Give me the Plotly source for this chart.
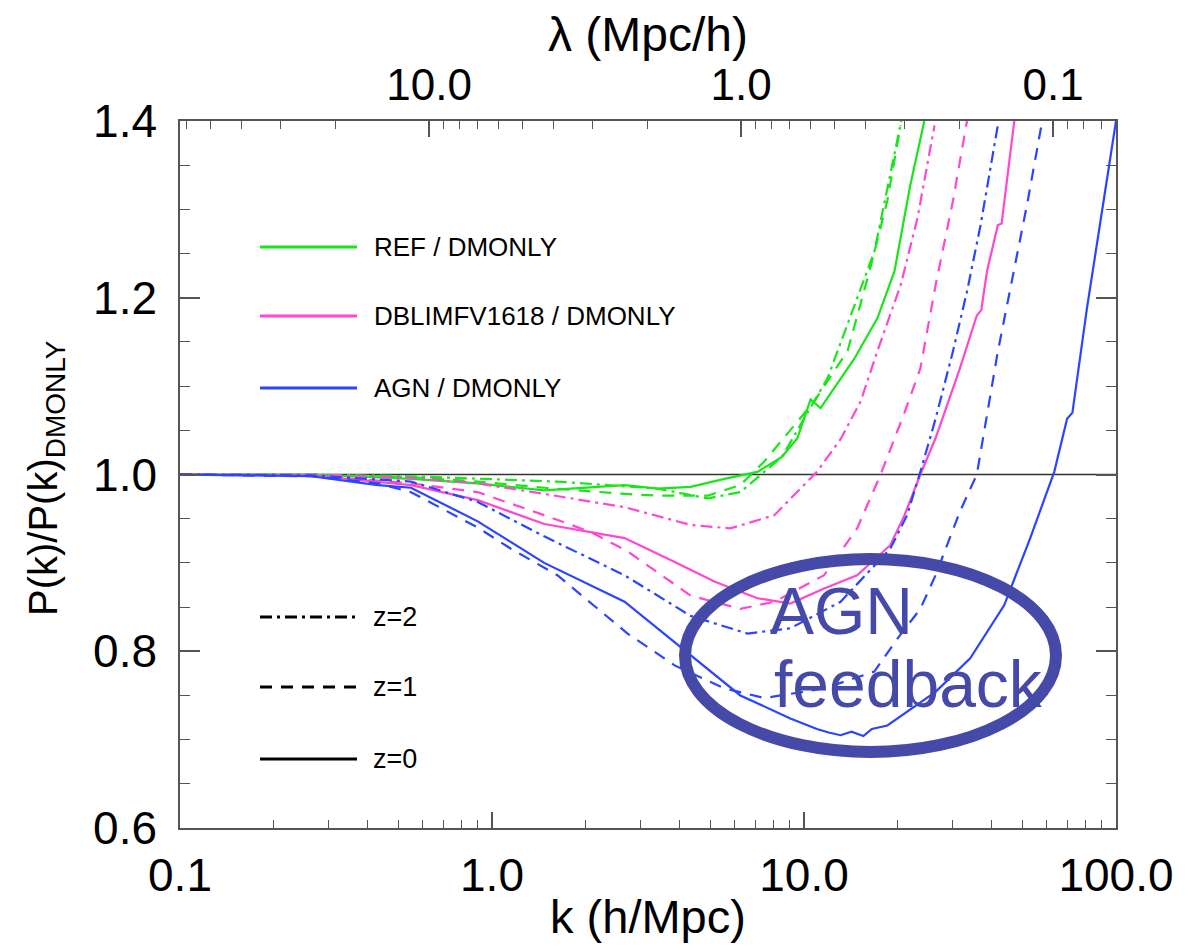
import numpy as np
import plotly.graph_objects as go

# ---------------- data ----------------
agn_z0_k = [0.1, 0.263, 0.431, 0.55, 0.90, 1.47, 2.66, 4.33, 6.25, 9.04, 11.0, 12.0, 13.1, 14.2, 15.5, 16.5, 18.5, 26.4, 34.1, 43.8, 53.1, 63.4, 69.7, 72.5, 80.7, 100]
agn_z0_v = [1.0, 0.998, 0.988, 0.985, 0.947, 0.900, 0.856, 0.795, 0.750, 0.724, 0.712, 0.708, 0.705, 0.709, 0.704, 0.712, 0.716, 0.754, 0.792, 0.852, 0.928, 1.003, 1.063, 1.070, 1.188, 1.4]

agn_z1_k = [0.1, 0.263, 0.431, 0.55, 0.90, 1.15, 1.62, 2.72, 3.85, 5.56, 7.47, 11.6, 16.8, 19.9, 23.6, 26.4, 31.6, 35.8, 41.8, 47.2, 52.1, 58.0]
agn_z1_v = [1.0, 0.998, 0.990, 0.980, 0.940, 0.916, 0.886, 0.820, 0.784, 0.758, 0.747, 0.758, 0.777, 0.814, 0.848, 0.886, 0.958, 1.0, 1.139, 1.233, 1.309, 1.4]

agn_z2_k = [0.1, 0.263, 0.55, 0.90, 1.47, 2.66, 4.33, 6.59, 9.04, 13.1, 18.9, 21.4, 23.6, 26.4, 30.0, 33.3, 36.8, 41.8]
agn_z2_v = [1.0, 0.999, 0.992, 0.969, 0.930, 0.886, 0.840, 0.820, 0.826, 0.856, 0.916, 0.954, 1.003, 1.063, 1.139, 1.207, 1.282, 1.395]

dbl_z0_k = [0.1, 0.263, 0.55, 0.90, 1.47, 2.66, 3.85, 5.16, 7.09, 9.04, 11.6, 14.8, 18.9, 21.0, 23.6, 26.4, 31.6, 35.8, 37.0, 38.6, 41.8, 43.0, 47.2]
dbl_z0_v = [1.0, 0.999, 0.988, 0.971, 0.944, 0.928, 0.901, 0.879, 0.860, 0.854, 0.871, 0.886, 0.920, 0.954, 1.0, 1.041, 1.120, 1.180, 1.186, 1.230, 1.282, 1.284, 1.4]

dbl_z1_k = [0.1, 0.263, 0.55, 0.90, 1.47, 2.07, 2.72, 4.33, 6.25, 8.04, 11.6, 14.8, 17.6, 21.0, 23.6, 26.4, 30.0, 33.3]
dbl_z1_v = [1.0, 0.999, 0.990, 0.980, 0.954, 0.935, 0.913, 0.863, 0.848, 0.856, 0.886, 0.939, 1.0, 1.07, 1.12, 1.214, 1.309, 1.4]

dbl_z2_k = [0.1, 0.263, 0.55, 0.90, 1.47, 2.66, 4.33, 5.81, 8.04, 11.0, 13.1, 15.2, 17.2, 20.4, 23.1, 26.2]
dbl_z2_v = [1.0, 1.0, 0.996, 0.990, 0.978, 0.963, 0.943, 0.939, 0.954, 1.003, 1.040, 1.083, 1.140, 1.214, 1.290, 1.395]

ref_z0_k = [0.1, 0.263, 0.55, 0.90, 1.47, 2.66, 3.40, 4.33, 5.56, 7.09, 8.5, 9.52, 10.5, 11.3, 14.5, 17.2, 19.5, 21.9, 24.3]
ref_z0_v = [1.0, 1.0, 0.995, 0.990, 0.982, 0.988, 0.984, 0.986, 0.995, 1.003, 1.020, 1.041, 1.085, 1.075, 1.131, 1.177, 1.230, 1.327, 1.4]

ref_z1_k = [0.1, 0.263, 0.55, 0.90, 1.47, 2.66, 3.40, 4.91, 6.25, 7.47, 10.8, 13.8, 16.3, 18.5, 20.4]
ref_z1_v = [1.0, 1.0, 0.997, 0.992, 0.985, 0.978, 0.976, 0.976, 0.988, 1.015, 1.083, 1.140, 1.233, 1.310, 1.395]

ref_z2_k = [0.1, 0.263, 0.55, 0.90, 1.62, 3.40, 4.91, 6.25, 8.5, 11.9, 16.8, 20.5]
ref_z2_v = [1.0, 1.0, 0.998, 0.995, 0.992, 0.984, 0.973, 0.980, 1.020, 1.109, 1.252, 1.4]

model_names = ["REF / DMONLY", "DBLIMFV1618 / DMONLY", "AGN / DMONLY"]
model_colors = ["#19e619", "#ff47d1", "#2a45ff"]
z_names = ["z=2", "z=1", "z=0"]

k_ticks = [0.1, 1, 10, 100]
k_ticktext = ["0.1", "1.0", "10.0", "100.0"]
lam_major = [10.0, 1.0, 0.1]
lam_major_text = ["10.0", "1.0", "0.1"]
lam_minor = [60, 50, 40, 30, 20, 9, 8, 7, 6, 5, 4, 3, 2, 0.9, 0.8, 0.7, 0.6, 0.5, 0.4, 0.3, 0.2, 0.09, 0.08, 0.07]
y_ticks = [0.6, 0.8, 1.0, 1.2, 1.4]

# ---------------- styles ----------------
DASH = "12px,9px"
DASHDOT = "12px,5px,3px,5px"
z_dash = {"z=2": DASHDOT, "z=1": DASH, "z=0": "solid"}
LW = 2.2
AX = "#555555"
FONT = "Liberation Sans, Arial, Helvetica, sans-serif"

curves = [
    (ref_z2_k, ref_z2_v, 0, "z=2"), (ref_z1_k, ref_z1_v, 0, "z=1"), (ref_z0_k, ref_z0_v, 0, "z=0"),
    (dbl_z2_k, dbl_z2_v, 1, "z=2"), (dbl_z1_k, dbl_z1_v, 1, "z=1"), (dbl_z0_k, dbl_z0_v, 1, "z=0"),
    (agn_z2_k, agn_z2_v, 2, "z=2"), (agn_z1_k, agn_z1_v, 2, "z=1"), (agn_z0_k, agn_z0_v, 2, "z=0"),
]

fig = go.Figure()
for k, v, m, z in curves:
    fig.add_trace(go.Scatter(x=k, y=v, mode="lines",
                             line=dict(color=model_colors[m], width=LW, dash=z_dash[z]),
                             name=f"{model_names[m]} {z}", showlegend=False))
# activates the top (lambda) axis
fig.add_trace(go.Scatter(x=[1.0], y=[1.0], xaxis="x2", yaxis="y", mode="markers",
                         marker=dict(opacity=0), showlegend=False, hoverinfo="skip"))

# ---------------- layout geometry ----------------
W, H = 1192, 951
L, R, T, B = 172, 1108, 113, 820
def px(x):
    return (x - L) / (R - L)
def py(y):
    return (B - y) / (B - T)

k_minor = [m * 10.0 ** d for d in (-1, 0, 1) for m in range(2, 10)]
lam_major_k = [2 * np.pi / l for l in lam_major]
lam_minor_k = [2 * np.pi / l for l in lam_minor]

fig.update_layout(
    width=W, height=H,
    margin=dict(l=L, r=W - R, t=T, b=H - B),
    plot_bgcolor="white", paper_bgcolor="white",
    showlegend=False,
    font=dict(family=FONT, color="black"),
    xaxis=dict(type="log", range=[-1, 2], tickmode="array", tickvals=k_ticks, ticktext=k_ticktext,
               ticks="inside", ticklen=16, tickwidth=1.5, tickcolor=AX,
               showline=True, linecolor=AX, linewidth=1.5, mirror=False,
               showgrid=False, zeroline=False, tickfont=dict(size=46),
               ticklabelstandoff=6,
               title=dict(text="k (h/Mpc)", font=dict(size=47), standoff=0),
               minor=dict(tickmode="array", tickvals=k_minor, ticks="inside", ticklen=8,
                          tickwidth=1.2, tickcolor=AX, showgrid=False)),
    xaxis2=dict(type="log", range=[-1, 2], overlaying="x", side="top", anchor="y",
                tickmode="array", tickvals=lam_major_k, ticktext=lam_major_text,
                ticks="inside", ticklen=16, tickwidth=1.5, tickcolor=AX,
                showline=True, linecolor=AX, linewidth=1.5,
                showgrid=False, zeroline=False, tickfont=dict(size=44),
                ticklabelstandoff=2,
                title=dict(text="λ (Mpc/h)", font=dict(size=48), standoff=0),
                minor=dict(tickmode="array", tickvals=lam_minor_k, ticks="inside", ticklen=8,
                           tickwidth=1.2, tickcolor=AX, showgrid=False)),
    yaxis=dict(range=[0.6, 1.4], tickmode="array", tickvals=y_ticks,
               ticktext=[f"{t:.1f}" for t in y_ticks],
               ticks="inside", ticklen=20, tickwidth=1.5, tickcolor=AX,
               showline=True, linecolor=AX, linewidth=1.5, mirror="ticks",
               showgrid=False, zeroline=False, tickfont=dict(size=46),
               ticklabelstandoff=12,
               minor=dict(dtick=0.05, ticks="inside", ticklen=10, tickwidth=1.2,
                          tickcolor=AX, showgrid=False)),
)

shapes = []
annotations = []
# reference line at 1.0
shapes.append(dict(type="line", xref="paper", x0=0, x1=1, yref="y", y0=1.0, y1=1.0,
                   line=dict(color="#333333", width=1.3), layer="below"))

# y-axis title
annotations.append(dict(text="P(k)/P(k)<sub>DMONLY</sub>", xref="paper", yref="paper",
                        x=px(38), y=py(470), xanchor="center", yanchor="middle",
                        textangle=-90, showarrow=False,
                        font=dict(size=40, color="black", family=FONT)))

# legend: models
model_leg_y = [239, 308, 380]
for name, col, yy in zip(model_names, model_colors, model_leg_y):
    shapes.append(dict(type="line", xref="paper", yref="paper", x0=px(252), x1=px(349),
                       y0=py(yy), y1=py(yy), line=dict(color=col, width=3)))
    annotations.append(dict(text=name, xref="paper", yref="paper", x=px(364), y=py(yy),
                            xanchor="left", yanchor="middle", showarrow=False,
                            font=dict(size=26, color="black", family=FONT)))
# legend: redshifts
z_leg_y = [609, 679, 751]
for name, yy in zip(z_names, z_leg_y):
    shapes.append(dict(type="line", xref="paper", yref="paper", x0=px(252), x1=px(349),
                       y0=py(yy), y1=py(yy), line=dict(color="black", width=3, dash=z_dash[name])))
    annotations.append(dict(text=name, xref="paper", yref="paper", x=px(363), y=py(yy),
                            xanchor="left", yanchor="middle", showarrow=False,
                            font=dict(size=27, color="black", family=FONT)))

# AGN feedback ellipse + label
ELL = "#4549a8"
shapes.append(dict(type="circle", xref="paper", yref="paper",
                   x0=px(677), x1=px(1048), y0=py(744), y1=py(551),
                   line=dict(color=ELL, width=12), layer="above"))
annotations.append(dict(text="AGN", xref="paper", yref="paper", x=px(760), y=py(603),
                        xanchor="left", yanchor="middle", showarrow=False,
                        font=dict(size=66, color=ELL, family=FONT)))
annotations.append(dict(text="feedback", xref="paper", yref="paper", x=px(764), y=py(676),
                        xanchor="left", yanchor="middle", showarrow=False,
                        font=dict(size=66, color=ELL, family=FONT)))

fig.update_layout(shapes=shapes, annotations=annotations)
fig.write_html("out.html")
